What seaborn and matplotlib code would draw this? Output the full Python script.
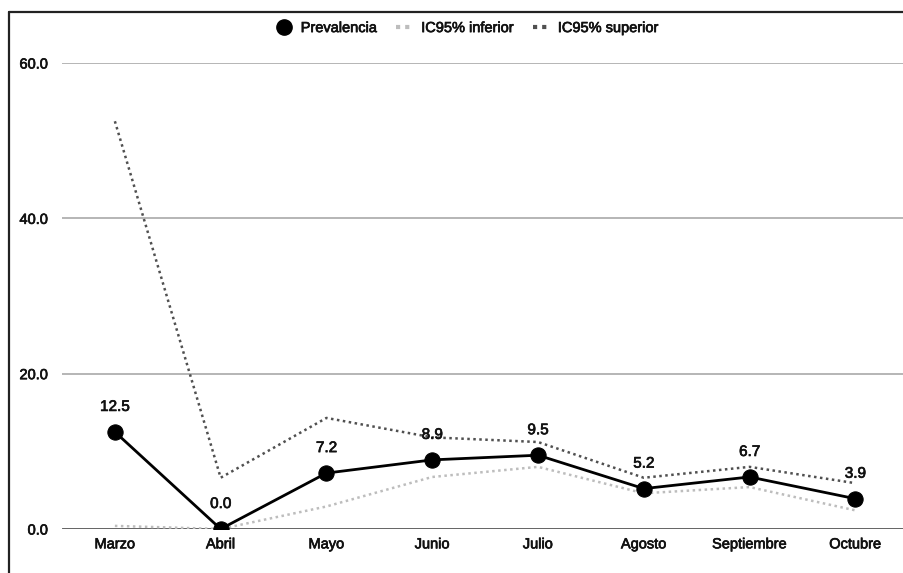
import pandas as pd
import numpy as np
import matplotlib.pyplot as plt
import matplotlib.patheffects as pe
from matplotlib.lines import Line2D
import seaborn as sns

# datos
meses = ['Marzo', 'Abril', 'Mayo', 'Junio', 'Julio', 'Agosto', 'Septiembre', 'Octubre']
prevalencia = [12.5, 0.0, 7.2, 8.9, 9.5, 5.2, 6.7, 3.9]
ic_inferior = [0.4, 0.0, 2.9, 6.7, 8.0, 4.6, 5.4, 2.4]
ic_superior = [52.5, 6.6, 14.3, 11.8, 11.2, 6.6, 8.0, 5.9]
yticks = [0, 20, 40, 60]

sns.set_style('white')
plt.rcParams['font.family'] = ['Liberation Sans', 'DejaVu Sans']

df = pd.DataFrame({'mes': meses, 'prev': prevalencia,
                   'inf': ic_inferior, 'sup': ic_superior})
df['x'] = np.arange(len(meses))

fig = plt.figure(figsize=(9.04, 5.73), dpi=100)
ax = fig.add_axes([62 / 904, 44 / 573, 842 / 904, 466 / 573])

txt = '#111111'
fs = 10.5
dot = (0, (1, 1.4))
grueso = [pe.withStroke(linewidth=0.5, foreground=txt)]  # texto algo mas grueso

sns.lineplot(data=df, x='x', y='inf', ax=ax, color='#bdbdbd', lw=1.8,
             linestyle=dot, sort=False, zorder=2)
sns.lineplot(data=df, x='x', y='sup', ax=ax, color='#505050', lw=1.8,
             linestyle=dot, sort=False, zorder=2)
sns.lineplot(data=df, x='x', y='prev', ax=ax, color='black', lw=2.0,
             marker='o', markersize=11, markeredgecolor='black', sort=False, zorder=4)

for xi, v in zip(df['x'], prevalencia):
    ax.annotate(f'{v:.1f}', (xi, v), xytext=(0, 25), textcoords='offset pixels',
                ha='center', va='center', fontsize=fs + 0.5, color=txt, zorder=5,
                path_effects=grueso)

ax.set_xlim(-0.5, 7.46)
ax.set_ylim(0, 60)
ax.set_yticks(yticks)
ax.set_yticklabels([f'{t:.1f}' for t in yticks])
ax.set_xticks(df['x'])
ax.set_xticklabels(meses)
ax.tick_params(axis='both', length=0, labelsize=fs, labelcolor=txt)
ax.tick_params(axis='y', pad=10)
ax.tick_params(axis='x', pad=6)
for lab in ax.get_xticklabels() + ax.get_yticklabels():
    lab.set_path_effects(grueso)
ax.set_xlabel('')
ax.set_ylabel('')
for s in ax.spines.values():
    s.set_visible(False)
for t in yticks[1:]:
    ax.axhline(t, color='#b5b5b5', lw=1.4, zorder=1)
ax.axhline(0, color='#555555', lw=2.0, zorder=1)

handles = [
    Line2D([], [], color='black', marker='o', markersize=11, linestyle='none'),
    Line2D([], [], color='#bdbdbd', lw=3, linestyle=(0, (1, 1.2))),
    Line2D([], [], color='#505050', lw=3, linestyle=(0, (1, 1.2))),
]
leg = fig.legend(handles, ['Prevalencia', 'IC95% inferior', 'IC95% superior'],
                 loc='center', bbox_to_anchor=(0.517, 0.951), ncol=3, frameon=False,
                 fontsize=fs, handlelength=1.1, handletextpad=0.6, columnspacing=1.3,
                 labelcolor=txt)
for t in leg.get_texts():
    t.set_path_effects(grueso)

# marco de la imagen
fig.add_artist(Line2D([9 / 904, 1], [1 - 12 / 573] * 2, color='#222222', lw=1.6,
                      transform=fig.transFigure))
fig.add_artist(Line2D([9 / 904] * 2, [0, 1 - 12 / 573], color='#222222', lw=1.6,
                      transform=fig.transFigure))

fig.savefig('out.png', dpi=100)
